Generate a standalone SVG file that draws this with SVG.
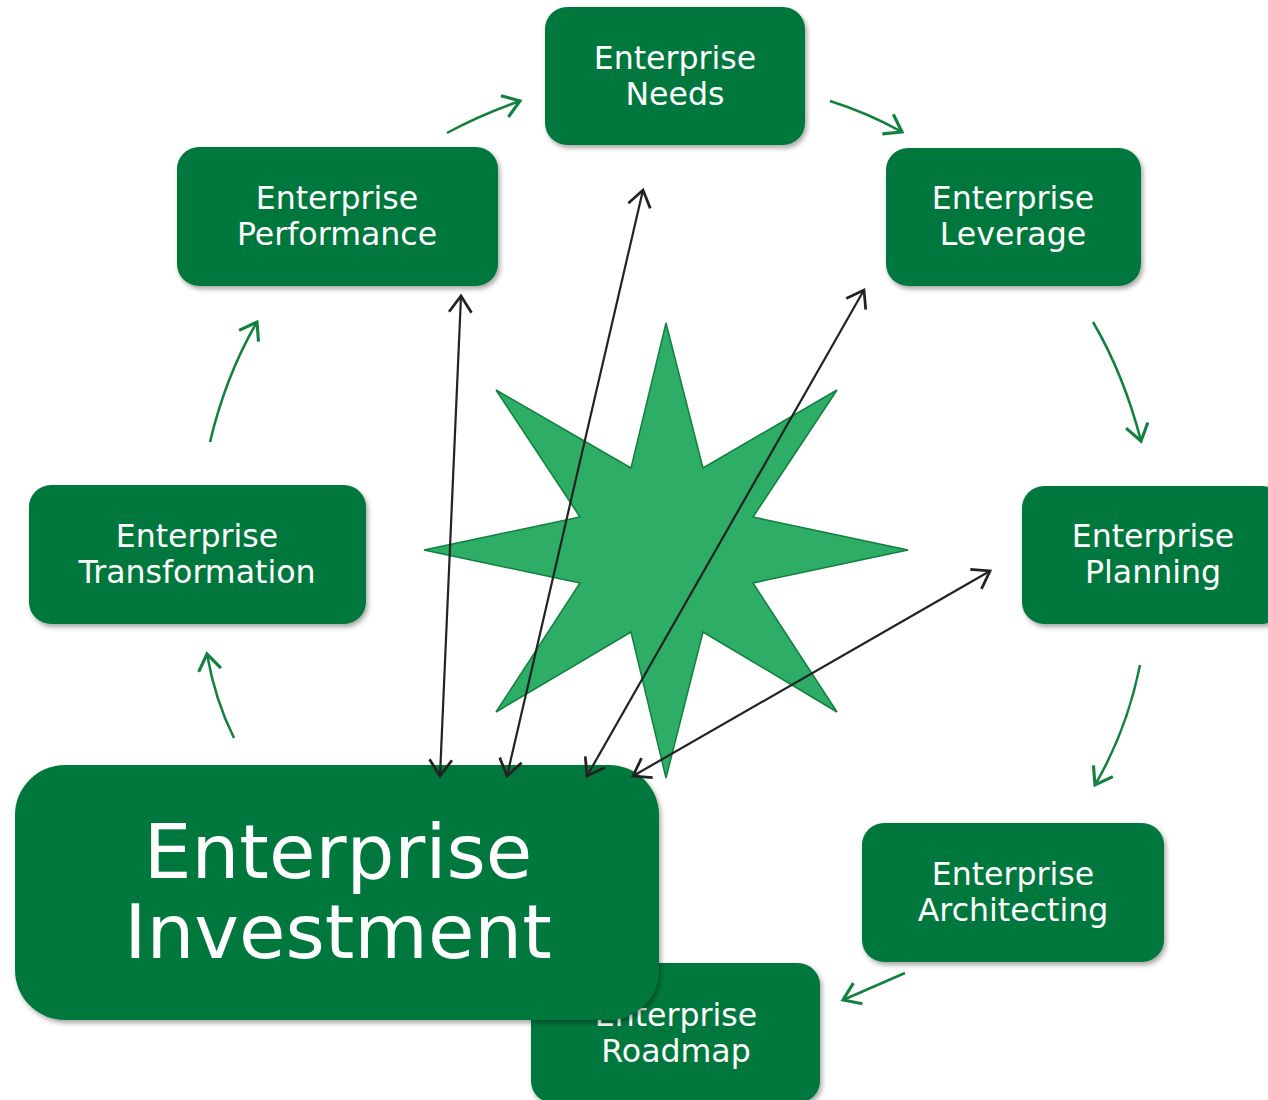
<svg xmlns="http://www.w3.org/2000/svg" width="1268" height="1100" viewBox="0 0 1268 1100">
<style>
.box{fill:#00783C;filter:url(#sh)}
.t{font-family:"DejaVu Sans","Liberation Sans",sans-serif;font-size:31.6px;fill:#fff;text-anchor:middle}
.tb{font-family:"DejaVu Sans","Liberation Sans",sans-serif;font-size:75.5px;fill:#fff;text-anchor:middle}
.g{fill:none;stroke:#12803F;stroke-width:2.5;marker-end:url(#ga)}
.k{fill:none;stroke:#222;stroke-width:2.2;marker-start:url(#ka);marker-end:url(#ka)}
</style>
<defs>
<filter id="sh" x="-10%" y="-10%" width="125%" height="130%">
<feDropShadow dx="2" dy="3" stdDeviation="2.5" flood-color="#000" flood-opacity="0.35"/>
</filter>
<marker id="ga" markerUnits="userSpaceOnUse" markerWidth="30" markerHeight="30" viewBox="-16 -12 20 24" refX="0" refY="0" orient="auto">
<path d="M-13,-9 L0,0 L-13,9" fill="none" stroke="#12803F" stroke-width="2.5"/>
</marker>
<marker id="ka" markerUnits="userSpaceOnUse" markerWidth="30" markerHeight="30" viewBox="-16 -12 20 24" refX="0" refY="0" orient="auto-start-reverse">
<path d="M-13,-9 L0,0 L-13,9" fill="none" stroke="#222" stroke-width="2.2"/>
</marker>
</defs>
<rect width="1268" height="1100" fill="#fff"/>
<g id="star">
<polygon points="666,323 703,468 837,390 753,517 908,550 753,583 837,712 703,632 666,778 631,632 496,712 580,583 424,550 580,517 496,390 631,468" fill="#2EAD66" stroke="#11803E" stroke-width="1.5"/>
</g>
<g id="node-needs">
<rect class="box" x="545" y="7" width="260" height="138" rx="22"/>
<text class="t" x="675" y="69">Enterprise</text>
<text class="t" x="675" y="105">Needs</text>
</g>
<g id="node-performance">
<rect class="box" x="177" y="147" width="321" height="139" rx="22"/>
<text class="t" x="337" y="209">Enterprise</text>
<text class="t" x="337" y="245">Performance</text>
</g>
<g id="node-leverage">
<rect class="box" x="886" y="148" width="255" height="138" rx="22"/>
<text class="t" x="1013" y="209">Enterprise</text>
<text class="t" x="1013" y="245">Leverage</text>
</g>
<g id="node-transformation">
<rect class="box" x="29" y="485" width="337" height="139" rx="22"/>
<text class="t" x="197" y="547">Enterprise</text>
<text class="t" x="197" y="583">Transformation</text>
</g>
<g id="node-planning">
<rect class="box" x="1022" y="486" width="262" height="138" rx="22"/>
<text class="t" x="1153" y="547">Enterprise</text>
<text class="t" x="1153" y="583">Planning</text>
</g>
<g id="node-architecting">
<rect class="box" x="862" y="823" width="302" height="139" rx="22"/>
<text class="t" x="1013" y="885">Enterprise</text>
<text class="t" x="1013" y="921">Architecting</text>
</g>
<g id="node-roadmap">
<rect class="box" x="531" y="963" width="289" height="140" rx="22"/>
<text class="t" x="676" y="1026">Enterprise</text>
<text class="t" x="676" y="1062">Roadmap</text>
</g>
<g id="node-investment">
<rect class="box" x="15" y="765" width="644" height="255" rx="50"/>
<text class="tb" x="338" y="878">Enterprise</text>
<text class="tb" x="338" y="958">Investment</text>
</g>
<g id="connectors">
<path class="g" d="M447,133 Q480,115 520,101"/>
<path class="g" d="M830,101 Q868,113 902,132"/>
<path class="g" d="M1093,322 Q1124,375 1141,441"/>
<path class="g" d="M1140,665 Q1127,730 1095,785"/>
<path class="g" d="M905,973 Q875,986 843,1000"/>
<path class="g" d="M234,738 Q215,700 207,654"/>
<path class="g" d="M210,442 Q226,375 257,322"/>
<path class="k" d="M440,776 L461,296"/>
<path class="k" d="M507,776 L643,190"/>
<path class="k" d="M587,776 L864,290"/>
<path class="k" d="M633,776 L990,571"/>
</g>
</svg>
